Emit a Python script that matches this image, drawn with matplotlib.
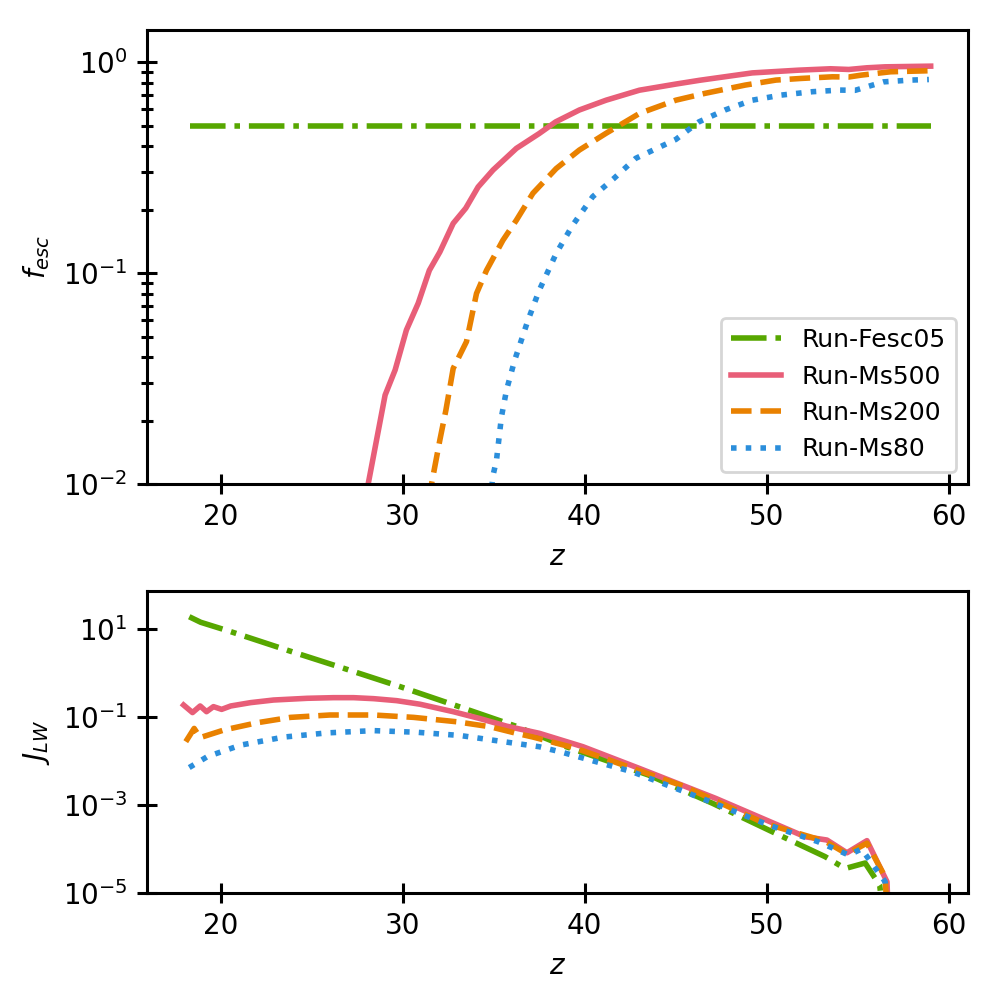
import matplotlib
matplotlib.use("Agg")
import matplotlib.pyplot as plt
from matplotlib.ticker import LogLocator, NullLocator, NullFormatter

# ---------------- data: top panel (escape fraction) ----------------
z_fesc05_top = [18.3, 59.0]
f_fesc05 = [0.5, 0.5]

z_ms500_top = [27.6, 28.1, 29.03, 29.58, 30.2, 30.85, 31.46, 32.04, 32.77, 33.46, 34.14,
               34.96, 36.24, 37.5, 38.4, 39.7, 41.17, 43.0, 45.0, 46.3, 49.2, 51.75,
               53.5, 54.5, 55.5, 56.5, 59.0]
f_ms500 = [0.005, 0.01, 0.0264, 0.0347, 0.0537, 0.072, 0.103, 0.126, 0.172, 0.203, 0.256,
           0.308, 0.39, 0.459, 0.521, 0.593, 0.66, 0.736, 0.787, 0.82, 0.889, 0.916,
           0.93, 0.923, 0.94, 0.95, 0.957]

z_ms200_top = [31.2, 31.58, 32.04, 32.37, 32.77, 33.5, 34.05, 34.6, 35.5, 36.24, 37.15,
               38.43, 39.7, 41.17, 43.0, 45.0, 46.6, 48.8, 50.5, 51.9, 53.6, 54.5,
               55.2, 56.8, 58.9]
f_ms200 = [0.006, 0.01, 0.0162, 0.0224, 0.0353, 0.0473, 0.080, 0.103, 0.143, 0.178, 0.239,
           0.313, 0.383, 0.46, 0.571, 0.66, 0.711, 0.778, 0.822, 0.837, 0.852, 0.85,
           0.868, 0.90, 0.91]

z_ms80_top = [34.7, 34.96, 35.15, 35.42, 35.7, 36.15, 36.88, 37.5, 38.43, 39.34, 40.43,
              41.6, 42.8, 45.0, 46.27, 47.7, 49.2, 50.8, 52.5, 54.0, 54.85, 56.4,
              57.9, 58.9]
f_ms80 = [0.007, 0.011, 0.013, 0.0208, 0.0279, 0.0387, 0.0598, 0.083, 0.124, 0.169, 0.23,
          0.281, 0.35, 0.43, 0.521, 0.593, 0.66, 0.698, 0.724, 0.737, 0.735, 0.806,
          0.822, 0.827]

# ---------------- data: bottom panel (LW background) ----------------
z_fesc05_bot = [18.27, 18.9, 20.55, 23.65, 26.75, 29.85, 33.1, 36.2, 38.98, 43.5, 47.0,
                50.65, 53.2, 54.3, 55.4, 56.2, 56.8]
j_fesc05 = [19.0, 14.2, 8.7, 3.3, 1.28, 0.49, 0.171, 0.062, 0.0211, 0.0048, 0.0011,
            2.1e-4, 6.7e-5, 3.6e-5, 4.8e-5, 1.5e-5, 1e-7]

z_ms500_bot = [17.96, 18.45, 18.87, 19.22, 19.6, 20.05, 20.55, 21.64, 22.9, 24.75, 26.2,
               27.3, 28.4, 29.67, 30.95, 32.77, 34.2, 35.7, 37.5, 39.9, 42.99, 47.18,
               52.1, 53.3, 54.4, 55.5, 56.6, 56.8]
j_ms500 = [0.187, 0.126, 0.178, 0.132, 0.172, 0.149, 0.178, 0.212, 0.243, 0.266, 0.275,
           0.275, 0.261, 0.235, 0.195, 0.132, 0.093, 0.062, 0.0426, 0.0211, 0.0068, 1.42e-3,
           1.9e-4, 1.6e-4, 8.2e-5, 1.55e-4, 1.8e-5, 1e-7]

z_ms200_bot = [18.08, 18.54, 18.87, 20.18, 22.0, 23.83, 26.0, 28.4, 30.6, 32.95, 34.8,
               36.24, 37.15, 39.5, 45.5, 49.9, 53.2, 54.4, 55.5, 56.5, 56.8]
j_ms200 = [0.0275, 0.055, 0.034, 0.0507, 0.074, 0.098, 0.111, 0.111, 0.098, 0.078, 0.06,
           0.0426, 0.035, 0.0195, 2.6e-3, 3.8e-4, 1.5e-4, 7.7e-5, 1.36e-4, 2.3e-5, 1e-7]

z_ms80_bot = [18.27, 19.27, 21.1, 23.47, 25.84, 28.4, 30.77, 33.14, 35.5, 37.5, 38.7,
              42.6, 46.27, 50.1, 52.8, 54.5, 55.2, 56.5, 56.8]
j_ms80 = [0.0071, 0.0126, 0.023, 0.035, 0.0435, 0.049, 0.045, 0.038, 0.0276, 0.0211, 0.016,
          5.7e-3, 1.5e-3, 3.5e-4, 1.47e-4, 7.3e-5, 1e-4, 1.8e-5, 1e-7]

labels = ["Run-Fesc05", "Run-Ms500", "Run-Ms200", "Run-Ms80"]
colors = ["#57a700", "#e85e78", "#e98100", "#2b8edb"]
styles = ["-.", "-", "--", ":"]

plt.rcParams["font.size"] = 10
plt.rcParams["axes.linewidth"] = 1.1

fig = plt.figure(figsize=(5, 5), dpi=200)
ax1 = fig.add_axes([0.147, 0.516, 0.821, 0.454])
ax2 = fig.add_axes([0.147, 0.107, 0.821, 0.302])

top = [(z_fesc05_top, f_fesc05), (z_ms500_top, f_ms500), (z_ms200_top, f_ms200), (z_ms80_top, f_ms80)]
bot = [(z_fesc05_bot, j_fesc05), (z_ms500_bot, j_ms500), (z_ms200_bot, j_ms200), (z_ms80_bot, j_ms80)]

for (x, y), lab, c, ls in zip(top, labels, colors, styles):
    ax1.plot(x, y, ls, color=c, lw=2, label=lab)
for (x, y), lab, c, ls in zip(bot, labels, colors, styles):
    ax2.plot(x, y, ls, color=c, lw=2, label=lab)

for ax in (ax1, ax2):
    ax.set_yscale("log")
    ax.set_xlim(15.95, 61.05)
    ax.set_xticks([20, 30, 40, 50, 60])
    ax.set_xlabel("$z$")
    ax.tick_params(which="major", direction="inout", length=7, width=1.1)
    ax.tick_params(which="minor", direction="inout", length=4, width=1.1)

ax1.set_ylim(1e-2, 1.42)
ax1.yaxis.set_major_locator(LogLocator(base=10, numticks=10))
ax1.yaxis.set_minor_locator(LogLocator(base=10, subs=range(2, 10), numticks=10))
ax1.yaxis.set_minor_formatter(NullFormatter())
ax1.set_ylabel("$f_{esc}$")
ax1.legend(loc="lower right", fontsize=9)

ax2.set_ylim(1e-5, 73)
ax2.set_yticks([1e-5, 1e-3, 1e-1, 1e1])
ax2.yaxis.set_minor_locator(NullLocator())
ax2.set_ylabel("$J_{LW}$")

fig.savefig("out.png", dpi=200)
